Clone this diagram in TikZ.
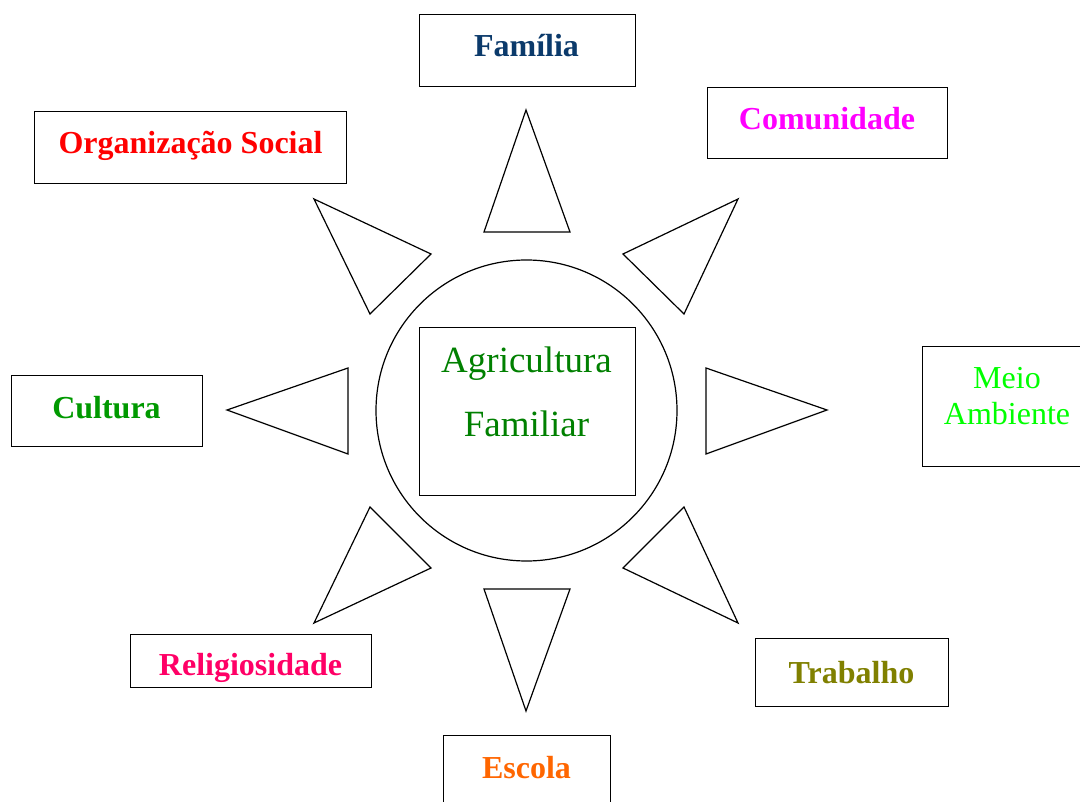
\documentclass[tikz,border=0pt]{standalone}
\usepackage{fontspec}
\setmainfont{Liberation Serif}
\definecolor{cFam}{RGB}{11,58,107}
\definecolor{cCom}{RGB}{255,0,255}
\definecolor{cOrg}{RGB}{255,0,0}
\definecolor{cCul}{RGB}{0,153,0}
\definecolor{cMeio}{RGB}{0,255,0}
\definecolor{cRel}{RGB}{255,0,102}
\definecolor{cTra}{RGB}{128,128,0}
\definecolor{cEsc}{RGB}{255,102,0}
\definecolor{cAgr}{RGB}{0,128,0}
\begin{document}
\begin{tikzpicture}[x=1pt,y=-1pt,
  box/.style={draw=black,line width=1.3pt,inner sep=0pt,anchor=north west},
  lbl/.style={font=\fontsize{32}{34}\selectfont\bfseries,inner sep=0pt,anchor=base},
  lblr/.style={font=\fontsize{32}{34}\selectfont,inner sep=0pt,anchor=base},
  ray/.style={draw=black,line width=1.2pt,line join=miter}]
\useasboundingbox[fill=white] (0,0) rectangle (1080,802);
% center
\node[draw=black,line width=1.2pt,circle,minimum size=301pt,inner sep=0pt] (circ) at (526.5,410.5) {};
\node[box,minimum width=216pt,minimum height=168pt] (agr) at (419,327) {};
\node[font=\fontsize{37}{40}\selectfont,text=cAgr,inner sep=0pt,anchor=base] (agrA) at (526.5,373) {Agricultura};
\node[font=\fontsize{37}{40}\selectfont,text=cAgr,inner sep=0pt,anchor=base] (agrF) at (526.5,437) {Familiar};
% outer boxes
\node[box,minimum width=216pt,minimum height=72pt] (fam) at (419,14) {};
\node[lbl,text=cFam] (famT) at (526.5,57) {Família};
\node[box,minimum width=240pt,minimum height=71pt] (com) at (707,87) {};
\node[lbl,text=cCom] (comT) at (827,130) {Comunidade};
\node[box,minimum width=312pt,minimum height=72pt] (org) at (34,111) {};
\node[lbl,text=cOrg] (orgT) at (190.5,154) {Organização Social};
\node[box,minimum width=191pt,minimum height=71pt] (cul) at (11,375) {};
\node[lbl,text=cCul] (culT) at (106.5,419) {Cultura};
\node[box,minimum width=160pt,minimum height=120pt] (meio) at (922,346) {};
\node[lblr,text=cMeio] (meioA) at (1007,389) {Meio};
\node[lblr,text=cMeio] (meioB) at (1007,425) {Ambiente};
\node[box,minimum width=241pt,minimum height=53pt] (rel) at (130,634) {};
\node[lbl,text=cRel] (relT) at (250.5,675) {Religiosidade};
\node[box,minimum width=193pt,minimum height=68pt] (tra) at (755,638) {};
\node[lbl,text=cTra] (traT) at (851.5,683) {Trabalho};
\node[box,minimum width=167pt,minimum height=80pt] (esc) at (443,735) {};
\node[lbl,text=cEsc] (escT) at (526.5,778) {Escola};
% rays
\draw[ray] (526,110) -- (570,232) -- (484,232) -- cycle;
\draw[ray] (738,199) -- (684,314) -- (623,254) -- cycle;
\draw[ray] (827,410) -- (706,454) -- (706,368) -- cycle;
\draw[ray] (738,623) -- (623,568) -- (684,507) -- cycle;
\draw[ray] (526,711) -- (484,589) -- (570,589) -- cycle;
\draw[ray] (314,623) -- (370,507) -- (431,568) -- cycle;
\draw[ray] (227,410) -- (348,368) -- (348,454) -- cycle;
\draw[ray] (314,199) -- (431,254) -- (370,314) -- cycle;
\end{tikzpicture}
\end{document}
